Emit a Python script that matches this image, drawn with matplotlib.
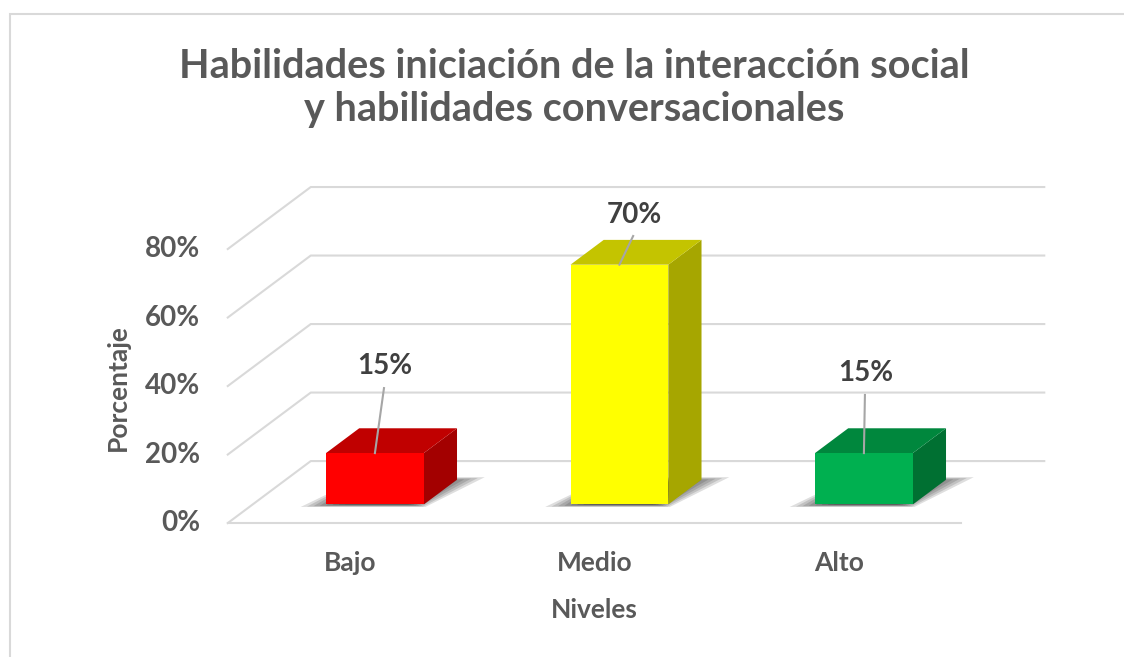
"""
Gráfico de barras pseudo-3D (estilo Excel): niveles de habilidades
"""
import matplotlib
matplotlib.use("Agg")
import matplotlib.pyplot as plt
from matplotlib.patches import Polygon, Rectangle

# datos
categorias = ["Bajo", "Medio", "Alto"]
porcentajes = [15, 70, 15]
ticks_y = [0, 20, 40, 60, 80]
etiquetas_y = ["0%", "20%", "40%", "60%", "80%"]

titulo = "Habilidades iniciación de la interacción social\ny habilidades conversacionales"
titulo_x = "Niveles"
titulo_y = "Porcentaje"

# estilo de cada barra: frente, tapa, lado
col_frente = ["#FF0000", "#FFFF00", "#00B050"]
col_tapa = ["#C00000", "#C4C400", "#00873D"]
col_lado = ["#A30000", "#A6A600", "#007032"]

# desplazamiento de las etiquetas (x, y) respecto a la categoría
pos_etq = [(0.143, 45.8), (0.162, 89.9), (0.110, 43.8)]
ini_guia = [39.4, 83.8, 37.4]

# proyección oblicua
DX, DY = 0.3395, 18.1
Z0, Z1 = 0.3, 0.7
ANCHO = 0.4
PISO = (-0.5, 2.5)

GRIS = "#595959"
FUENTE = ["Lato", "DejaVu Sans"]


def P(x, y, z):
    return (x + z * DX, y + z * DY)


def caja(ax, i, v, cf, ct, cl):
    x0, x1 = i - ANCHO / 2, i + ANCHO / 2
    # sombra difusa sobre el piso
    for k in range(8):
        e = 0.012 * k
        sh = [P(x0 - 0.09 + e * 2, 0, Z0 - 0.04 + e * 0.5), P(x1 + 0.02 - e, 0, Z0 - 0.04 + e * 0.5),
              P(x1 + 0.10 - e * 2, 0, Z1 + 0.04 - e), P(x0, 0, Z1 + 0.04 - e)]
        ax.add_patch(Polygon(sh, closed=True, fc="#000000", ec="none", alpha=0.13, zorder=2))
    frente = [P(x0, 0, Z0), P(x1, 0, Z0), P(x1, v, Z0), P(x0, v, Z0)]
    tapa = [P(x0, v, Z0), P(x1, v, Z0), P(x1, v, Z1), P(x0, v, Z1)]
    lado = [P(x1, 0, Z0), P(x1, 0, Z1), P(x1, v, Z1), P(x1, v, Z0)]
    ax.add_patch(Polygon(lado, closed=True, fc=cl, ec="none", zorder=3))
    ax.add_patch(Polygon(tapa, closed=True, fc=ct, ec="none", zorder=3))
    ax.add_patch(Polygon(frente, closed=True, fc=cf, ec="none", zorder=4))


def main():
    plt.rcParams['font.family'] = FUENTE
    fig = plt.figure(figsize=(11.24, 6.57), dpi=100)
    ax = fig.add_axes([0, 0, 1, 1])
    ax.set_xlim(-1.4315, 3.1656)
    ax.set_ylim(-39.1, 152.7)
    ax.axis("off")

    # marco exterior
    fig.patches.append(Rectangle((10 / 1124, -0.1), 1.2, 1.1 - 14 / 657,
                                 transform=fig.transFigure, fill=False,
                                 ec="#D9D9D9", lw=1.5))

    # rejilla: diagonales del piso/pared y líneas de la pared del fondo
    for v in ticks_y:
        a, b = P(PISO[0], v, 0), P(PISO[0], v, 1)
        c = P(PISO[1], v, 1)
        ax.plot([a[0], b[0], c[0]], [a[1], b[1], c[1]], color="#D9D9D9", lw=1.5, zorder=1)
    a, b = P(PISO[0], 0, 0), P(PISO[1], 0, 0)
    ax.plot([a[0], b[0]], [a[1], b[1]], color="#D9D9D9", lw=1.5, zorder=1)

    # etiquetas del eje y
    for v, t in zip(ticks_y, etiquetas_y):
        ax.text(-0.6135, v, t, ha="right", va="center", fontsize=20,
                fontweight="bold", color=GRIS)

    # barras
    for i, v in enumerate(porcentajes):
        caja(ax, i, v, col_frente[i], col_tapa[i], col_lado[i])
        # etiqueta de datos con línea guía
        lx, ly = pos_etq[i]
        tope = P(i, v, Z0)
        ax.plot([i + lx - 0.004, tope[0]], [ini_guia[i], tope[1]], color="#A6A6A6",
                lw=1.5, zorder=5)
        ax.text(i + lx, ly, f"{v}%", ha="center", va="center", fontsize=20,
                fontweight="bold", color="#404040", zorder=6)

    # categorías
    for i, c in enumerate(categorias):
        ax.text(i, -11.7, c, ha="center", va="center", fontsize=19,
                fontweight="bold", color=GRIS)

    ax.text(1.0, -25.4, titulo_x, ha="center", va="center", fontsize=19,
            fontweight="bold", color=GRIS)
    ax.text(-0.949, 39.7, titulo_y, ha="center", va="center", fontsize=19,
            fontweight="bold", color=GRIS, rotation=90)

    fig.text(574 / 1124, 1 - 88 / 657, titulo, ha="center", va="center",
             fontsize=28.5, fontweight="bold", color=GRIS, linespacing=1.2)

    fig.savefig("out.png", dpi=100)


if __name__ == "__main__":
    main()
